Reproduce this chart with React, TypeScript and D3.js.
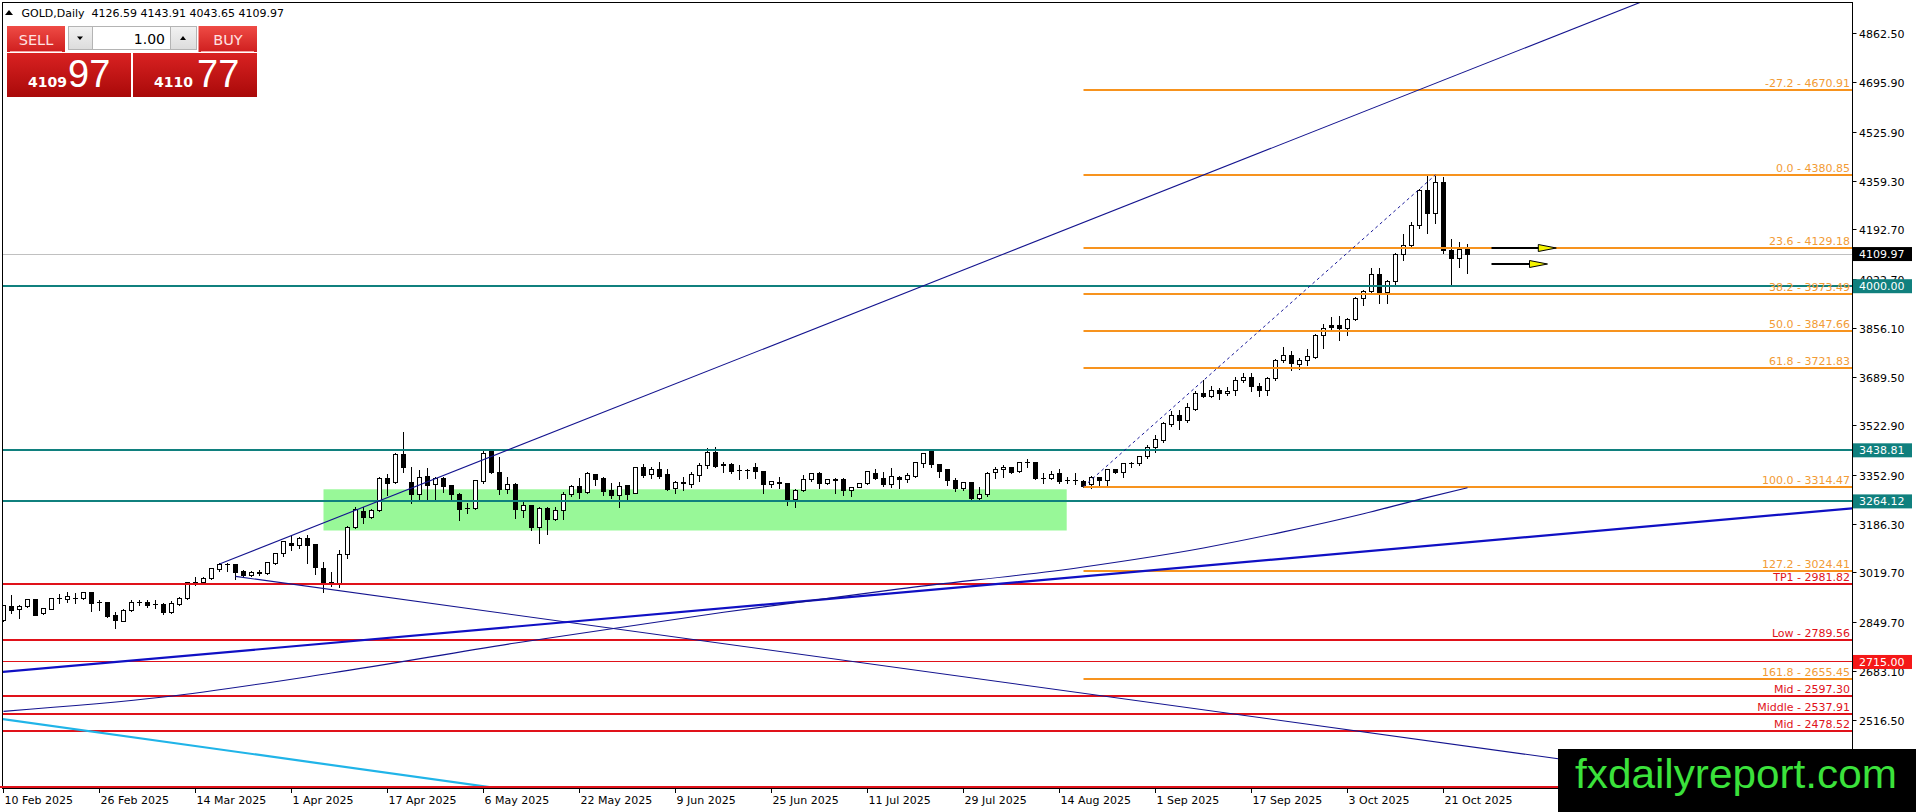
import React, { useEffect } from "react";
import * as d3 from "d3";

// ---------- DATA ----------
// Daily GOLD candles, 10 Feb 2025 .. 24 Oct 2025: [open, high, low, close]
const ohlc: [number, number, number, number][] = [
  [2858.5, 2910, 2856, 2906.4], [2904, 2944, 2883.6, 2892.7], [2895, 2910, 2864, 2904], [2904, 2929, 2903, 2927],
  [2927, 2929, 2874.5, 2875.6], [2881.3, 2900, 2880, 2898.4], [2896, 2934, 2895, 2932.6], [2932, 2947.4, 2917.8, 2933],
  [2929, 2953, 2921, 2938.3], [2933, 2949.7, 2915.5, 2932], [2932.6, 2955.4, 2930.3, 2953], [2953, 2955, 2890.4, 2915.5],
  [2917.8, 2927, 2892.7, 2917], [2917.8, 2921, 2870, 2872], [2875.6, 2887, 2830, 2858.5], [2855, 2895, 2855, 2892.7],
  [2890.4, 2927, 2890, 2917.8], [2917.8, 2927, 2910, 2918.5], [2919, 2927, 2904, 2907.5], [2913, 2927, 2898.4, 2912],
  [2913, 2915.5, 2879, 2883.6], [2883.6, 2924.6, 2881.3, 2915.5], [2913, 2938.3, 2910, 2932.6], [2932.6, 2989.6, 2930.3, 2986],
  [2986, 3004.4, 2978, 2985], [2986, 3004, 2984, 3001], [3001, 3037, 2998, 3035], [3032, 3052, 3027, 3049],
  [3049, 3054.6, 3027, 3048], [3049, 3050, 2997.6, 3021.5], [3026, 3029.5, 3006.7, 3012], [3011, 3027, 3009, 3020],
  [3020, 3029.5, 3012, 3019], [3018, 3058, 3016, 3054.6], [3052, 3088, 3050, 3086.5], [3086, 3128, 3078, 3126.4],
  [3120.7, 3149.2, 3097.9, 3112.7], [3112.7, 3143.5, 3103.6, 3137.8], [3137.8, 3149.2, 3052.3, 3112.7], [3115, 3117, 3015.8, 3038.6],
  [3035.2, 3058, 2955.4, 2986.2], [2986, 3023.8, 2974.8, 2984], [2981.6, 3097.9, 2970.2, 3084.2], [3084.2, 3180, 3069.4, 3175.4],
  [3175.4, 3243.8, 3174, 3237], [3227.9, 3243.8, 3191.4, 3209.6], [3209.6, 3237, 3209, 3232.4], [3232.4, 3346, 3230, 3343],
  [3343, 3357.8, 3286, 3325.9], [3329.3, 3428.5, 3327, 3422.8], [3422.8, 3502.6, 3365.8, 3380.6], [3329.3, 3382.9, 3257.5, 3289.4],
  [3289.4, 3371.5, 3268.9, 3346.4], [3348.7, 3377.2, 3268.9, 3317.9], [3323.6, 3348.7, 3268.9, 3343], [3343, 3346.4, 3297.4, 3314.5],
  [3316.8, 3320.2, 3268.9, 3289.4], [3289.4, 3291.7, 3200.5, 3237], [3240.4, 3257.5, 3223, 3239], [3240.4, 3337, 3237, 3333.9],
  [3331.6, 3436.5, 3328, 3428.5], [3436.5, 3440, 3360, 3362.4], [3363.5, 3414.8, 3289.4, 3305.4], [3305.4, 3348.7, 3291.7, 3322.5],
  [3322.5, 3325.9, 3206.2, 3234.7], [3232.4, 3263.2, 3211.9, 3248.4], [3248.4, 3252, 3166.3, 3174.3], [3175.4, 3243.8, 3120.7, 3240.4],
  [3240.4, 3243.8, 3152.6, 3202.8], [3202.8, 3243.8, 3200.5, 3232.4], [3232.4, 3295, 3202.8, 3287], [3286, 3320.2, 3283.7, 3314.5],
  [3314.5, 3343, 3274.6, 3294], [3294, 3363.5, 3294, 3360.1], [3354.4, 3357.8, 3320.2, 3339.6], [3343, 3348.7, 3286, 3297.4],
  [3299.7, 3325.9, 3274.6, 3283.7], [3283.7, 3329.3, 3243.8, 3314.5], [3316.8, 3320.2, 3268.9, 3288.3], [3291.7, 3383, 3291.7, 3380.6],
  [3380.6, 3390.9, 3348.7, 3352.1], [3354.4, 3380.6, 3343, 3371.5], [3371.5, 3400, 3343, 3348.7], [3354.4, 3373.8, 3303.1, 3306.5],
  [3309, 3335, 3291.7, 3328.2], [3326, 3348.7, 3303.1, 3330], [3322.5, 3365.8, 3314.5, 3354.4], [3352.1, 3396.6, 3335, 3385.2],
  [3385.2, 3445.6, 3377.2, 3431.9], [3431.9, 3449, 3380.6, 3382.9], [3390.9, 3400, 3365.8, 3385.2], [3388.6, 3396.6, 3360.1, 3365.8],
  [3370, 3388.6, 3339.6, 3369], [3369, 3373.8, 3343, 3369.5], [3380.6, 3394.3, 3343, 3365.8], [3365.8, 3368, 3291.7, 3320.2],
  [3322.5, 3335, 3314.5, 3330.5], [3328.2, 3348.7, 3308.8, 3327], [3325.9, 3328.2, 3251.8, 3268.9], [3268.9, 3305.4, 3246.1, 3300.8],
  [3300.8, 3354.4, 3299, 3337.3], [3337.3, 3362.4, 3335, 3357.8], [3357.8, 3365.8, 3308.8, 3325.9], [3325.9, 3339.6, 3323.6, 3337.3],
  [3337, 3343, 3294, 3337.5], [3340.7, 3343, 3286, 3300.8], [3302, 3314.5, 3282.6, 3312.2], [3312.2, 3328.2, 3312, 3325.9],
  [3325.9, 3369.2, 3324, 3365.8], [3360.1, 3373.8, 3339.6, 3343], [3343, 3365.8, 3318, 3320.2], [3320.2, 3377.2, 3314.5, 3348.7],
  [3346.4, 3351, 3308.8, 3340.7], [3337.3, 3360.1, 3331.6, 3351], [3348.7, 3400, 3346.4, 3396.6], [3394.3, 3430.8, 3380.6, 3428.5],
  [3434.2, 3437.6, 3382.9, 3388.6], [3388.6, 3392, 3348.7, 3365.8], [3371.5, 3373.8, 3320.2, 3335], [3333.9, 3343, 3299.7, 3308.8],
  [3308.8, 3331.6, 3303.1, 3328.2], [3328.2, 3331.6, 3271.2, 3274.6], [3274.6, 3312.2, 3273, 3289.4], [3289.4, 3363.5, 3282.6, 3360.1],
  [3362.4, 3382.9, 3343, 3373.8], [3373.8, 3388.6, 3348.7, 3380.6], [3380.6, 3382.9, 3360.1, 3362.4], [3365.8, 3400, 3363.5, 3397.7],
  [3397.7, 3408, 3382.9, 3396.6], [3397.7, 3400, 3339.6, 3343], [3343, 3360.1, 3328.2, 3342], [3342, 3369.2, 3340, 3354.4],
  [3360.1, 3373.8, 3328.2, 3331.6], [3335, 3348.7, 3326, 3334], [3335, 3360.1, 3323.6, 3335.5], [3331.6, 3337.3, 3314.47, 3316],
  [3320.2, 3351, 3308.8, 3345.2], [3346.4, 3348.7, 3320.2, 3335], [3335, 3373.8, 3316.8, 3371.5], [3373.8, 3376, 3360.1, 3362.4],
  [3362.4, 3396.6, 3348.7, 3394.3], [3394.3, 3400, 3382.9, 3392], [3392, 3419.4, 3388.6, 3417.1], [3417.1, 3457, 3413.7, 3449],
  [3449, 3491.2, 3434.2, 3476.4], [3474, 3536.7, 3468.3, 3531], [3528.7, 3574.3, 3521.9, 3557.2], [3559.5, 3576.6, 3510.5, 3542.4],
  [3542.4, 3599.4, 3536.7, 3585.7], [3578.9, 3642.7, 3576.6, 3633.6], [3633.6, 3679.2, 3622.2, 3624.5], [3622.2, 3658.7, 3619.9, 3642.7],
  [3642.7, 3650.7, 3613.1, 3633.6], [3633.6, 3656.4, 3627.9, 3641.6], [3645, 3688.3, 3627.9, 3679.2], [3676.9, 3702, 3673.5, 3688.3],
  [3688.3, 3704.3, 3642.7, 3656.4], [3658.7, 3667.8, 3624.5, 3642.7], [3645, 3688.3, 3627.9, 3684.9], [3684.9, 3749.9, 3679.2, 3747.6],
  [3745.3, 3790.9, 3741.9, 3764.7], [3764.7, 3779.5, 3713.4, 3736.2], [3733.9, 3753.3, 3716.8, 3747.6], [3747.6, 3784.1, 3730.5, 3761.3],
  [3756.7, 3835, 3755, 3833.1], [3831.9, 3872, 3790, 3855.9], [3864, 3895.8, 3850.2, 3859], [3867.3, 3899.2, 3816, 3855.9],
  [3855.9, 3890.1, 3833.1, 3886.7], [3886.7, 3961.9, 3884.4, 3958.5], [3958.5, 3987, 3935.7, 3981.3], [3981.3, 4061.1, 3981, 4040.6],
  [4040.6, 4061.1, 3943.7, 3977.9], [3977.9, 4021.2, 3943.7, 4015.5], [4015.5, 4114.7, 4007.5, 4109], [4109, 4178.5, 4089.6, 4138.6],
  [4138.6, 4220.7, 4135, 4207], [4207, 4331.3, 4197.9, 4326.7], [4326.7, 4376.9, 4183.1, 4249.2], [4249.2, 4380.85, 4217.3, 4354.1],
  [4354.1, 4372.3, 4112.4, 4123.8], [4123.8, 4160.3, 4004.1, 4095.3], [4095.3, 4152.3, 4064.5, 4126], [4126.59, 4143.91, 4043.65, 4109.97],
];

const dateLabels = [
  "10 Feb 2025", "26 Feb 2025", "14 Mar 2025", "1 Apr 2025", "17 Apr 2025", "6 May 2025", "22 May 2025", "9 Jun 2025",
  "25 Jun 2025", "11 Jul 2025", "29 Jul 2025", "14 Aug 2025", "1 Sep 2025", "17 Sep 2025", "3 Oct 2025", "21 Oct 2025",
];
const dateLabelStep = 12; // bars between date labels

const priceTicks = [4862.5, 4695.9, 4525.9, 4359.3, 4192.7, 4022.7, 3856.1, 3689.5, 3522.9, 3352.9, 3186.3, 3019.7, 2849.7, 2683.1, 2516.5];

const fibLevels = [
  { name: "-27.2", price: 4670.91 },
  { name: "0.0", price: 4380.85 },
  { name: "23.6", price: 4129.18 },
  { name: "38.2", price: 3973.49 },
  { name: "50.0", price: 3847.66 },
  { name: "61.8", price: 3721.83 },
  { name: "100.0", price: 3314.47 },
  { name: "127.2", price: 3024.41 },
  { name: "161.8", price: 2655.45 },
];
const fibFromBar = 135;
const fibAnchors: [number, number][] = [[135, 3314.47], [179, 4380.85]];

const redLevels = [
  { name: "TP1", price: 2981.82 },
  { name: "Low", price: 2789.56 },
  { name: "Mid", price: 2597.3 },
  { name: "Middle", price: 2537.91 },
  { name: "Mid", price: 2478.52 },
];
const markedRedLevel = 2715.0;
const floorRedLevel = 2288.4;
const tealLevels = [4000.0, 3438.81, 3264.12];
const lastClose = 4109.97;

const zone = { fromBar: 40, toBar: 132.9, high: 3305.5, low: 3164.6 };

// trend lines anchored in (bar, price)
const trendLines = [
  { a: [27, 3050], b: [200, 4921], left: false, right: true, kind: "thin" },
  { a: [29, 3007.7], b: [194, 2385.2], left: false, right: true, kind: "thin" },
  { a: [0, 2681], b: [231, 3240.2], left: true, right: true, kind: "thick" },
  { a: [0, 2519], b: [60, 2290], left: true, right: true, kind: "cyan" },
];

// slow moving average at a few bars
const movingAvg: [number, number][] = [
  [0, 2546], [20, 2595], [41, 2677], [64, 2780], [90, 2885], [112, 2965],
  [135, 3040], [150, 3105], [160, 3160], [170, 3222], [177, 3271], [183, 3311],
];

const arrows = [
  { fromBar: 186, toBar: 194.1, price: 4129.18 },
  { fromBar: 186, toBar: 193, price: 4076 },
];

const headerText = "GOLD,Daily  4126.59 4143.91 4043.65 4109.97";
const sellQuote = ["4109", "97"];
const buyQuote = ["4110", "77"];
const lotSize = "1.00";

// ---------- STYLE ----------
const FONT = "'DejaVu Sans', Verdana, sans-serif";
const ORANGE = "#f7931e";
const ORANGE_TXT = "#f29b35";
const RED = "#e0121a";
const TEAL = "#10807e";
const BLUE_THIN = "#14148f";
const BLUE_THICK = "#1010c4";
const CYAN = "#20b4e8";

const W = 1916;
const H = 812;
const PLOT = { left: 2.5, top: 2.5, right: 1852.5, bottom: 788.5 };

export default function App() {
  useEffect(() => {
    document.body.style.margin = "0";
    document.body.style.background = "#fff";
  }, []);

  const x = d3.scaleLinear().domain([0, 231]).range([3.5, 1851.5]);
  const y = d3.scaleLinear().domain([2284, 4968.5]).range([788, 3]);
  const snap1 = (v: number) => Math.round(v - 0.5) + 0.5;
  const snap2 = (v: number) => Math.round(v);

  const lineGen = d3
    .line<[number, number]>()
    .x((d) => x(d[0]))
    .y((d) => y(d[1]));
  const maGen = d3
    .line<[number, number]>()
    .x((d) => x(d[0]))
    .y((d) => y(d[1]))
    .curve(d3.curveMonotoneX);

  const extend = (t: (typeof trendLines)[number]): [number, number][] => {
    const [b1, p1] = t.a;
    const [b2, p2] = t.b;
    const k = (p2 - p1) / (b2 - b1);
    const s = t.left ? -10 : b1;
    const e = t.right ? 260 : b2;
    return [
      [s, p1 + (s - b1) * k],
      [e, p1 + (e - b1) * k],
    ];
  };

  const axisBox = (price: number, fill: string, key: string) => {
    const cy = y(price);
    return (
      <g key={key}>
        <rect x={1853} y={cy - 7} width={59} height={14} fill={fill} />
        <text x={1859} y={cy + 4} fontSize={11} fill="#fff" fontFamily={FONT}>
          {price.toFixed(2)}
        </text>
      </g>
    );
  };

  return (
    <svg
      width={W}
      height={H}
      viewBox={`0 0 ${W} ${H}`}
      style={{ position: "absolute", left: 0, top: 0, display: "block", background: "#fff" }}
    >
      <defs>
        <clipPath id="plotClip">
          <rect x={3} y={3} width={1849} height={785} />
        </clipPath>
        <linearGradient id="btnRed" x1="0" y1="0" x2="0" y2="1">
          <stop offset="0" stopColor="#ef4b45" />
          <stop offset="1" stopColor="#cf1f1f" />
        </linearGradient>
        <linearGradient id="boxRed" x1="0" y1="0" x2="0" y2="1">
          <stop offset="0" stopColor="#d92222" />
          <stop offset="1" stopColor="#a90909" />
        </linearGradient>
        <linearGradient id="greyBtn" x1="0" y1="0" x2="0" y2="1">
          <stop offset="0" stopColor="#f2f2f2" />
          <stop offset="1" stopColor="#dcdcdc" />
        </linearGradient>
      </defs>

      <rect x={0} y={0} width={W} height={H} fill="#fff" />

      <g clipPath="url(#plotClip)">
        {/* zone rectangle */}
        <rect
          x={x(zone.fromBar)}
          y={y(zone.high)}
          width={x(zone.toBar) - x(zone.fromBar)}
          height={y(zone.low) - y(zone.high)}
          fill="#98f898"
        />

        {/* current price line */}
        <line x1={0} x2={1852} y1={snap1(y(lastClose))} y2={snap1(y(lastClose))} stroke="#c0c0c0" strokeWidth={1} />

        {/* candles */}
        {ohlc.map(([o, h, l, c], i) => {
          const cx = x(i);
          const yo = y(o);
          const yc = y(c);
          const top = snap1(Math.min(yo, yc));
          const bot = snap1(Math.max(yo, yc));
          const bull = c >= o;
          return (
            <g key={"c" + i}>
              <line x1={cx} x2={cx} y1={Math.round(y(h))} y2={Math.round(y(l)) + 1} stroke="#000" strokeWidth={1} />
              {bot - top < 1 ? (
                <line x1={cx - 2.5} x2={cx + 2.5} y1={top} y2={top} stroke="#000" strokeWidth={1} />
              ) : (
                <rect x={cx - 2} y={top} width={4} height={bot - top} fill={bull ? "#fff" : "#000"} stroke="#000" strokeWidth={1} />
              )}
            </g>
          );
        })}

        {/* red key levels */}
        {redLevels.map((lv, i) => (
          <line key={"r" + i} x1={0} x2={1852} y1={snap2(y(lv.price))} y2={snap2(y(lv.price))} stroke={RED} strokeWidth={2} />
        ))}
        <line x1={0} x2={1852} y1={snap1(y(markedRedLevel))} y2={snap1(y(markedRedLevel))} stroke={RED} strokeWidth={1} />
        <line x1={0} x2={1852} y1={snap2(y(floorRedLevel))} y2={snap2(y(floorRedLevel))} stroke={RED} strokeWidth={2} />

        {/* teal levels */}
        {tealLevels.map((p, i) => (
          <line key={"t" + i} x1={0} x2={1852} y1={snap2(y(p))} y2={snap2(y(p))} stroke={TEAL} strokeWidth={2} />
        ))}

        {/* fibonacci levels */}
        {fibLevels.map((lv, i) => (
          <line key={"f" + i} x1={x(fibFromBar)} x2={1852} y1={snap2(y(lv.price))} y2={snap2(y(lv.price))} stroke={ORANGE} strokeWidth={2} />
        ))}
        <path d={lineGen(fibAnchors) || ""} fill="none" stroke="#1a1a9a" strokeWidth={1} strokeDasharray="3,3" />

        {/* trend lines */}
        {trendLines.map((t, i) => (
          <path
            key={"tl" + i}
            d={lineGen(extend(t)) || ""}
            fill="none"
            stroke={t.kind === "cyan" ? CYAN : t.kind === "thick" ? BLUE_THICK : BLUE_THIN}
            strokeWidth={t.kind === "thin" ? 1.1 : 2.2}
          />
        ))}

        {/* moving average */}
        <path d={maGen(movingAvg) || ""} fill="none" stroke={BLUE_THIN} strokeWidth={1.1} />

        {/* arrows */}
        {arrows.map((a, i) => {
          const ay = snap2(y(a.price));
          const x0 = x(a.fromBar);
          const tip = x(a.toBar);
          return (
            <g key={"a" + i}>
              <line x1={x0} x2={tip - 16} y1={ay} y2={ay} stroke="#000" strokeWidth={2} />
              <polygon points={`${tip - 18},${ay - 3.5} ${tip},${ay} ${tip - 18},${ay + 3.5}`} fill="#f4f400" stroke="#000" strokeWidth={1} />
            </g>
          );
        })}

        {/* level texts */}
        {fibLevels.map((lv, i) => (
          <text key={"ft" + i} x={1850} y={y(lv.price) - 3} textAnchor="end" fontSize={11} fill={ORANGE_TXT} fontFamily={FONT}>
            {`${lv.name} - ${lv.price.toFixed(2)}`}
          </text>
        ))}
        {redLevels.map((lv, i) => (
          <text key={"rt" + i} x={1850} y={y(lv.price) - 3} textAnchor="end" fontSize={11} fill={RED} fontFamily={FONT}>
            {`${lv.name} - ${lv.price.toFixed(2)}`}
          </text>
        ))}
      </g>

      {/* frame */}
      <rect x={PLOT.left} y={PLOT.top} width={PLOT.right - PLOT.left} height={PLOT.bottom - PLOT.top} fill="none" stroke="#000" strokeWidth={1} />
      <line x1={0} x2={1565} y1={snap2(y(floorRedLevel))} y2={snap2(y(floorRedLevel))} stroke={RED} strokeWidth={2} />

      {/* price axis */}
      {priceTicks.map((p, i) => {
        const ty = snap1(y(p));
        return (
          <g key={"pt" + i}>
            <line x1={1852.5} x2={1856.5} y1={ty} y2={ty} stroke="#000" strokeWidth={1} />
            <text x={1859} y={ty + 4} fontSize={11} fill="#000" fontFamily={FONT}>
              {p.toFixed(2)}
            </text>
          </g>
        );
      })}
      {tealLevels.map((p, i) => axisBox(p, TEAL, "tb" + i))}
      {axisBox(markedRedLevel, "#f51818", "rb")}
      {axisBox(lastClose, "#000", "lb")}

      {/* time axis */}
      {dateLabels.map((d, i) => {
        const tx = x(i * dateLabelStep);
        return (
          <g key={"d" + i}>
            <line x1={tx} x2={tx} y1={788.5} y2={793} stroke="#000" strokeWidth={1} />
            <text x={tx + 1} y={804} fontSize={11} fill="#000" fontFamily={FONT}>
              {d}
            </text>
          </g>
        );
      })}

      {/* header */}
      <polygon points="5,15 9,10 13,15" fill="#000" />
      <text x={21.5} y={17} fontSize={11} fill="#000" fontFamily={FONT} xmlSpace="preserve">
        {headerText}
      </text>

      {/* one-click trading panel */}
      <g fontFamily={FONT}>
        <rect x={6.5} y={25.5} width={251} height={72} fill="#fff" />
        <rect x={7} y={26} width={58} height={26} fill="url(#btnRed)" />
        <text x={36} y={44.5} textAnchor="middle" fontSize={14.5} fill="#ffe2e2">
          SELL
        </text>
        <line x1={10} x2={62} y1={51.5} y2={51.5} stroke="#f6a3a3" strokeWidth={1} />
        <rect x={68.5} y={26.5} width={24} height={23} fill="url(#greyBtn)" stroke="#b4b4b4" />
        <polygon points="77,36.5 83,36.5 80,40" fill="#000" />
        <rect x={92.5} y={26.5} width={78} height={23} fill="#fff" stroke="#b4b4b4" />
        <text x={165} y={43.5} textAnchor="end" fontSize={14} fill="#000">
          {lotSize}
        </text>
        <rect x={170.5} y={26.5} width={26} height={23} fill="url(#greyBtn)" stroke="#b4b4b4" />
        <polygon points="180,40 186,40 183,36" fill="#000" />
        <rect x={198.5} y={26} width={58.5} height={26} fill="url(#btnRed)" />
        <text x={228} y={44.5} textAnchor="middle" fontSize={14.5} fill="#ffe2e2">
          BUY
        </text>
        <line x1={201} x2={254} y1={51.5} y2={51.5} stroke="#f6a3a3" strokeWidth={1} />

        <rect x={7} y={53} width={124} height={44} fill="url(#boxRed)" />
        <text x={28} y={87} fontSize={14} fontWeight="bold" fill="#fff">
          {sellQuote[0]}
        </text>
        <text x={68} y={87} fontSize={38} fill="#fff" fontFamily="'Liberation Sans', Arial, sans-serif">
          {sellQuote[1]}
        </text>
        <rect x={133} y={53} width={124} height={44} fill="url(#boxRed)" />
        <text x={154} y={87} fontSize={14} fontWeight="bold" fill="#fff">
          {buyQuote[0]}
        </text>
        <text x={197} y={87} fontSize={38} fill="#fff" fontFamily="'Liberation Sans', Arial, sans-serif">
          {buyQuote[1]}
        </text>
      </g>

      {/* watermark */}
      <rect x={1558} y={749} width={358} height={63} fill="#000" />
      <text
        x={1575}
        y={788}
        fontSize={41}
        fill="#3be23b"
        fontFamily="'Liberation Sans', Arial, sans-serif"
        textLength={322}
        lengthAdjust="spacingAndGlyphs"
      >
        fxdailyreport.com
      </text>
    </svg>
  );
}
